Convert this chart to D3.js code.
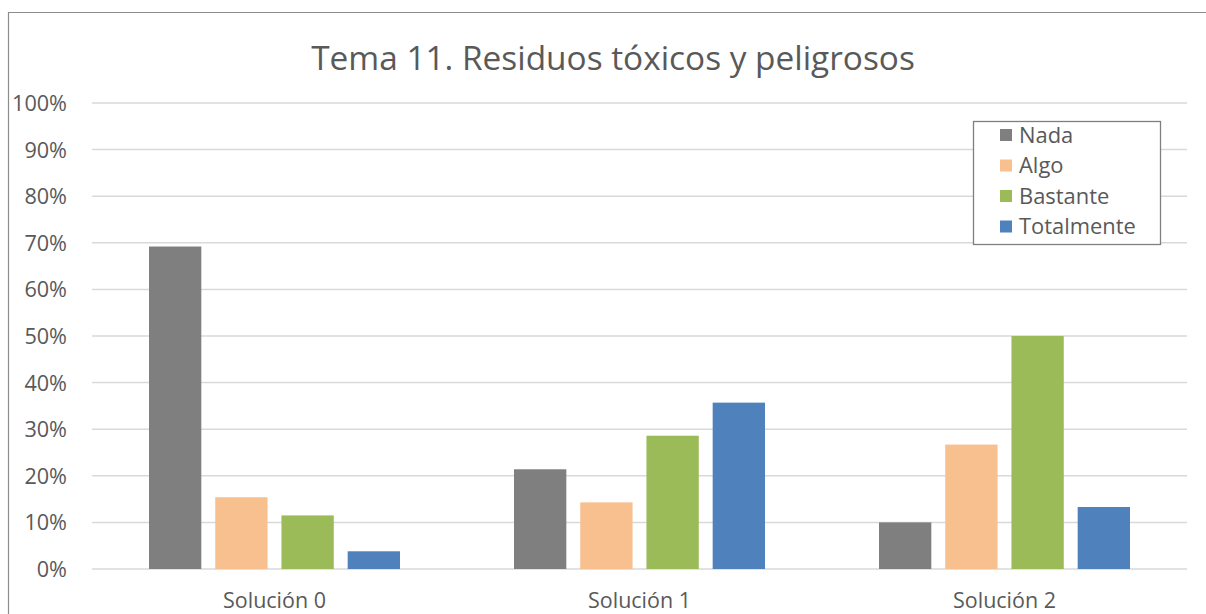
<!DOCTYPE html>
<html><head><meta charset="utf-8">
<script src="https://cdn.jsdelivr.net/npm/d3@7"></script>
<style>body{margin:0;background:#fff}svg{display:block}text{font-family:"Open Sans",sans-serif;fill:#595959}</style>
</head><body><svg id="c" width="1206" height="614"></svg>
<script>
const title = "Tema 11. Residuos tóxicos y peligrosos";
const categories = ["Solución 0", "Solución 1", "Solución 2"];
const seriesNames = ["Nada", "Algo", "Bastante", "Totalmente"];
const nada = [0.692, 0.214, 0.100];
const algo = [0.154, 0.143, 0.267];
const bastante = [0.115, 0.286, 0.500];
const totalmente = [0.038, 0.357, 0.133];
const colors = ["#7f7f7f", "#f9c08f", "#9bbb59", "#4f81bd"];
const yTicks = [0, 0.1, 0.2, 0.3, 0.4, 0.5, 0.6, 0.7, 0.8, 0.9, 1.0];

const series = [nada, algo, bastante, totalmente];
const svg = d3.select("#c");

function fit(sel, w) {
  sel.each(function () {
    const t = d3.select(this);
    const fs = parseFloat(t.style("font-size"));
    const len = this.getComputedTextLength();
    t.style("font-size", (fs * w / len) + "px");
  });
}

// outer border
svg.append("path").attr("d", "M8.5,620 V12.5 H1210").attr("fill", "none").attr("stroke", "#8c8c8c").attr("stroke-width", 1.2);

const x0 = d3.scaleBand().domain(categories).range([92, 1187]).paddingInner(0).paddingOuter(0);
const x1 = d3.scaleBand().domain(seriesNames).range([57, 365 - 57]).paddingInner(0.21).paddingOuter(0);
const y = d3.scaleLinear().domain([0, 1]).range([569, 103]);

// gridlines
svg.append("g").selectAll("line").data(yTicks).join("line")
  .attr("x1", 92).attr("x2", 1187)
  .attr("y1", d => y(d)).attr("y2", d => y(d))
  .attr("stroke", "#d9d9d9").attr("stroke-width", 1.5);

// y axis labels
const yAxis = d3.axisLeft(y).tickValues(yTicks).tickFormat(d3.format(".0%")).tickSize(0).tickPadding(0);
const ya = svg.append("g").attr("transform", "translate(67,0)").call(yAxis);
ya.select(".domain").remove();
ya.selectAll("text").style("font-size", "17px").attr("fill", "#595959").attr("dy", "0.35em");
ya.selectAll("text").filter(d => d === 1).call(fit, 55);
const fs100 = ya.selectAll("text").filter(d => d === 1).style("font-size");
ya.selectAll("text").style("font-size", fs100).style("font-family", "'Open Sans',sans-serif");

// bars
const groups = svg.append("g").selectAll("g").data(categories).join("g")
  .attr("transform", d => `translate(${x0(d)},0)`);
groups.selectAll("rect").data((c, i) => seriesNames.map((s, j) => ({s, v: series[j][i], j})))
  .join("rect")
  .attr("x", d => x1(d.s)).attr("width", x1.bandwidth())
  .attr("y", d => y(d.v)).attr("height", d => y(0) - y(d.v))
  .attr("fill", d => colors[d.j]);

// x axis labels
const xAxis = d3.axisBottom(x0).tickSize(0).tickPadding(0);
const xa = svg.append("g").attr("transform", "translate(0,569)").call(xAxis);
xa.select(".domain").remove();
xa.selectAll("text").attr("y", 39).attr("dy", 0).style("font-size", "17px").attr("fill", "#595959").style("font-family", "'Open Sans',sans-serif");
xa.selectAll("text").filter((d, i) => i === 0).call(fit, 103);
const fsx = xa.selectAll("text").filter((d, i) => i === 0).style("font-size");
xa.selectAll("text").style("font-size", fsx);

// title
const tt = svg.append("text").attr("x", 613).attr("y", 70).attr("text-anchor", "middle")
  .style("font-size", "30px").text(title);
tt.call(fit, 604);

// legend
const lg = svg.append("g");
lg.append("rect").attr("x", 973.5).attr("y", 121.5).attr("width", 187).attr("height", 123)
  .attr("fill", "#fff").attr("stroke", "#7f7f7f").attr("stroke-width", 1.3);
const items = lg.selectAll("g").data(seriesNames).join("g")
  .attr("transform", (d, i) => `translate(0,${135 + i * 30.5})`);
items.append("rect").attr("x", 1000).attr("y", -6).attr("width", 12).attr("height", 12).attr("fill", (d, i) => colors[i]);
const lt = items.append("text").attr("x", 1019).attr("dy", "0.35em").style("font-size", "18px").text(d => d);
lt.filter(d => d === "Totalmente").call(fit, 117);
const fsl = lt.filter(d => d === "Totalmente").style("font-size");
lt.style("font-size", fsl);
</script></body></html>
